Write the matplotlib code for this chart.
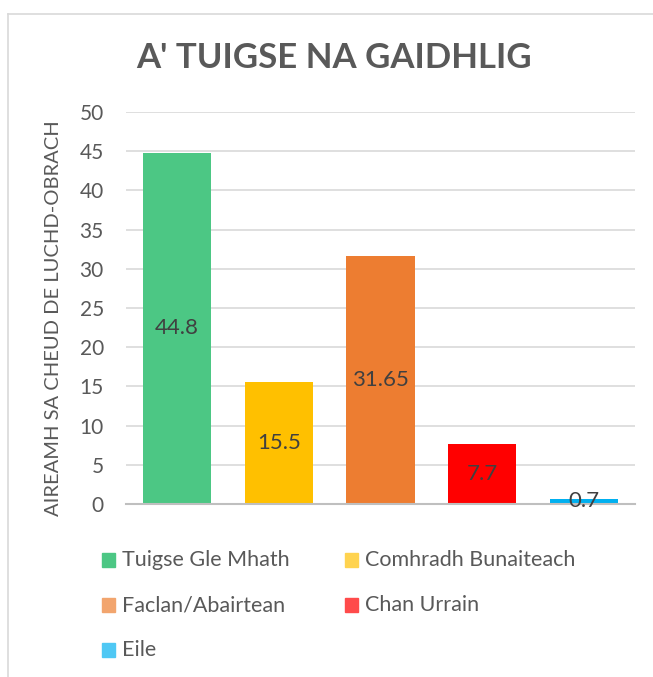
import matplotlib
matplotlib.use("Agg")
import matplotlib.pyplot as plt
from matplotlib.patches import Rectangle
from matplotlib.lines import Line2D

categories = ["Tuigse Gle Mhath", "Comhradh Bunaiteach", "Faclan/Abairtean", "Chan Urrain", "Eile"]
values = [44.8, 15.5, 31.65, 7.7, 0.7]
value_labels = ["44.8", "15.5", "31.65", "7.7", "0.7"]
bar_colors = ["#4CC784", "#FFC000", "#ED7D31", "#FF0000", "#00B0F0"]
legend_colors = ["#4CC784", "#FFD34F", "#F2A56E", "#FF4B4B", "#4FC8F4"]
yticks = [0, 5, 10, 15, 20, 25, 30, 35, 40, 45, 50]
title = "A' TUIGSE NA GAIDHLIG"
ylabel = "AIREAMH SA CHEUD DE LUCHD-OBRACH"

W, H = 653, 677
FONT = ["Lato", "DejaVu Sans"]
TXT = "#595959"

fig = plt.figure(figsize=(W / 100, H / 100), dpi=100)
fig.patch.set_facecolor("white")

# chart frame
fig.add_artist(Line2D([8 / W, 8 / W], [0, 1 - 14 / H], color="#D9D9D9", lw=1.2, transform=fig.transFigure))
fig.add_artist(Line2D([8 / W, 1], [1 - 14 / H, 1 - 14 / H], color="#D9D9D9", lw=1.2, transform=fig.transFigure))

ax = fig.add_axes([126 / W, 1 - 504 / H, (635 - 126) / W, (504 - 112) / H])
x = list(range(len(categories)))
ax.bar(x, values, width=0.67, color=bar_colors, zorder=3)
ax.set_xlim(-0.5, len(categories) - 0.5)
ax.set_ylim(0, 50)
ax.set_yticks(yticks)
ax.set_yticklabels([str(t) for t in yticks], fontsize=15, color=TXT, family=FONT)
ax.set_xticks([])
ax.tick_params(axis="y", length=0, pad=16)
for s in ["top", "right", "left"]:
    ax.spines[s].set_visible(False)
ax.spines["bottom"].set_color("#BFBFBF")
ax.spines["bottom"].set_linewidth(1.5)
ax.spines["bottom"].set_zorder(4)
ax.grid(axis="y", color="#D9D9D9", lw=1.2, zorder=0)
ax.set_axisbelow(True)

for xi, v, lab in zip(x, values, value_labels):
    ax.text(xi, v / 2, lab, ha="center", va="center", fontsize=16, color="#404040", family=FONT, zorder=5)

fig.text(334 / W, 1 - 58 / H, title, ha="center", va="center", fontsize=25, fontweight="bold", color=TXT, family=FONT)
fig.text(54 / W, 1 - 318 / H, ylabel, ha="center", va="center", rotation=90, fontsize=14.5, color=TXT, family=FONT)

# legend (manual, Excel-like layout)
col_x = [102, 345]
row_y = [560, 605, 650]
for i, (cat, col) in enumerate(zip(categories, legend_colors)):
    r, c = divmod(i, 2)
    sx, sy = col_x[c], row_y[r]
    fig.add_artist(Rectangle((sx / W, 1 - (sy + 7) / H), 13 / W, 14 / H, color=col, transform=fig.transFigure))
    fig.text((sx + 20) / W, 1 - sy / H, cat, ha="left", va="center", fontsize=15.5, color=TXT, family=FONT)

fig.savefig("out.png", dpi=100)
